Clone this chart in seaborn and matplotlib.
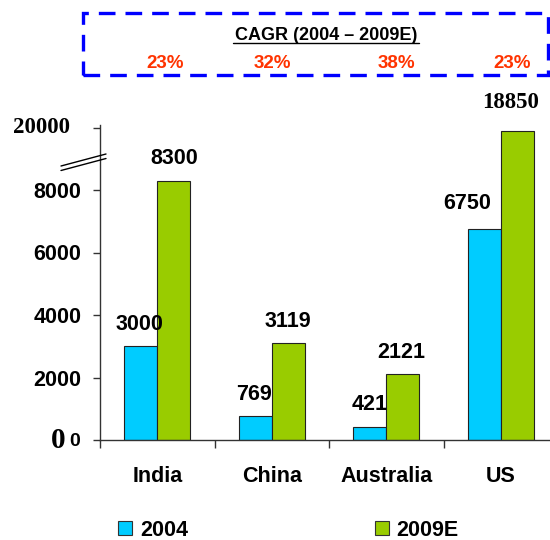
import numpy as np
import pandas as pd
import matplotlib
matplotlib.use("Agg")
import matplotlib.pyplot as plt
from matplotlib.patches import Patch, Rectangle
from matplotlib.lines import Line2D
import seaborn as sns

# ---- data ----
countries = ["India", "China", "Australia", "US"]
series = ["2004", "2009E"]
values_2004 = [3000, 769, 421, 6750]
values_2009 = [8300, 3119, 2121, 18850]
cagr = ["23%", "32%", "38%", "23%"]
ytick_values = [0, 2000, 4000, 6000, 8000, 20000]
ytick_labels = ["", "2000", "4000", "6000", "8000", ""]

colors = {"2004": "#00CCFF", "2009E": "#99CC00"}

df = pd.DataFrame({
    "country": countries * 2,
    "series": [series[0]] * 4 + [series[1]] * 4,
    "value": values_2004 + values_2009,
})

sns.set_theme(style="white")
plt.rcParams["font.family"] = ["Liberation Sans", "DejaVu Sans"]
plt.rcParams["font.weight"] = "bold"
plt.rcParams["text.color"] = "black"
plt.rcParams["xtick.color"] = "black"
plt.rcParams["ytick.color"] = "black"

SERIF = ["Liberation Serif", "DejaVu Serif"]
FS = 15.5

fig = plt.figure(figsize=(5.5, 5.4), dpi=100)
ax = fig.add_axes([100 / 550, 1 - 440 / 540, 450 / 550, 315 / 540])

sns.barplot(data=df, x="country", y="value", hue="series", order=countries,
            hue_order=series, palette=colors, width=0.58, gap=0,
            edgecolor="#222222", linewidth=0.8, saturation=1, legend=False, ax=ax)

# broken value axis: linear up to 9000, then compressed so 20000 sits at 10000
BRK = 9000.0
K = (10000.0 - BRK) / (20000.0 - BRK)


def fwd(v):
    v = np.asarray(v, dtype=float)
    return np.where(v <= BRK, v, BRK + (v - BRK) * K)


def inv(t):
    t = np.asarray(t, dtype=float)
    return np.where(t <= BRK, t, BRK + (t - BRK) / K)


ax.set_yscale("function", functions=(fwd, inv))
ax.set_ylim(0, float(inv(10080)))
ax.set_xlim(-0.5, 3.43)

# spines
for s in ["top", "right"]:
    ax.spines[s].set_visible(False)
for s in ["left", "bottom"]:
    ax.spines[s].set_color("#333333")
    ax.spines[s].set_linewidth(1.0)

# y ticks
ax.set_yticks(ytick_values)
ax.set_yticklabels(ytick_labels)
ax.tick_params(axis="y", direction="out", length=5, width=1, color="#333333",
               pad=8.5, labelsize=FS, labelcolor="black", left=True)
for lbl in ax.get_yticklabels():
    lbl.set_fontweight("bold")

# top label of the broken axis, in serif
ax.annotate("20000", (0, 20000), xycoords=("axes fraction", "data"),
            xytext=(-21.5, 0), textcoords="offset points", ha="right", va="center",
            fontsize=16.5, fontweight="bold", family=SERIF, annotation_clip=False)

# zero label: large serif 0 followed by small sans 0
fig.text(58 / 550, 1 - 441 / 540, "0", ha="center", va="center",
         fontsize=21, fontweight="bold", family=SERIF)
fig.text(75 / 550, 1 - 442 / 540, "0", ha="center", va="center",
         fontsize=14, fontweight="bold")

# x ticks: labels on groups, tick marks between groups
ax.set_xticks(range(len(countries)))
ax.set_xticklabels(countries)
ax.tick_params(axis="x", length=0, pad=19, labelsize=FS, labelcolor="black")
for lbl in ax.get_xticklabels():
    lbl.set_fontweight("bold")
ax.set_xticks([-0.5, 0.5, 1.5, 2.5], minor=True)
ax.tick_params(axis="x", which="minor", direction="out", length=6, width=1,
               color="#333333", bottom=True)
ax.set_xlabel("")
ax.set_ylabel("")

# value labels above bars
offsets_2004 = [(-1, 16), (-1, 15.5), (0, 16), (-12, 18.5)]
offsets_2009 = [(0, 16), (0, 15), (-1, 15), (-5, 20)]
ha = 0.29 / 2
for i, (v, off) in enumerate(zip(values_2004, offsets_2004)):
    ax.annotate(f"{v}", (i - ha, v), xytext=off, textcoords="offset points",
                ha="center", va="center", fontsize=FS, fontweight="bold")
for i, (v, off) in enumerate(zip(values_2009, offsets_2009)):
    big = v > 10000
    ax.annotate(f"{v}", (i + ha, v), xytext=off, textcoords="offset points",
                ha="center", va="center", fontsize=16.5 if big else FS,
                fontweight="bold", family=SERIF if big else None,
                annotation_clip=False)

# axis-break marks
for dy in (0, 4.5):
    fig.add_artist(Line2D([61 / 550, 106 / 550],
                          [1 - (166 + dy) / 540, 1 - (154 + dy) / 540],
                          color="black", lw=1.0))

# CAGR box
box = Rectangle((83 / 550, 1 - 75 / 540), 465 / 550, 62 / 540,
                transform=fig.transFigure, fill=False, edgecolor="#0000FF",
                lw=2.4, linestyle=(0, (5, 3)))
fig.add_artist(box)
fig.text(326 / 550, 1 - 35 / 540, "CAGR (2004 \u2013 2009E)", ha="center",
         va="center", fontsize=13, fontweight="bold")
fig.add_artist(Line2D([233 / 550, 419 / 550], [1 - 43 / 540, 1 - 43 / 540],
                      color="black", lw=1.0))
for x, c in zip([165, 272, 396, 512], cagr):
    fig.text(x / 550, 1 - 63 / 540, c, ha="center", va="center",
             fontsize=13.5, fontweight="bold", color="#FF3300")

# legend
handles = [Patch(facecolor=colors[s], edgecolor="#333333", lw=0.8, label=s)
           for s in series]
fig.legend(handles=handles, loc="center left", bbox_to_anchor=(99 / 550, 1 - 530 / 540),
           ncol=2, frameon=False, handlelength=0.65, handleheight=0.65,
           handletextpad=0.35, columnspacing=8.7, labelcolor="black",
           prop={"weight": "bold", "size": FS})

fig.savefig("out.png", dpi=100)
